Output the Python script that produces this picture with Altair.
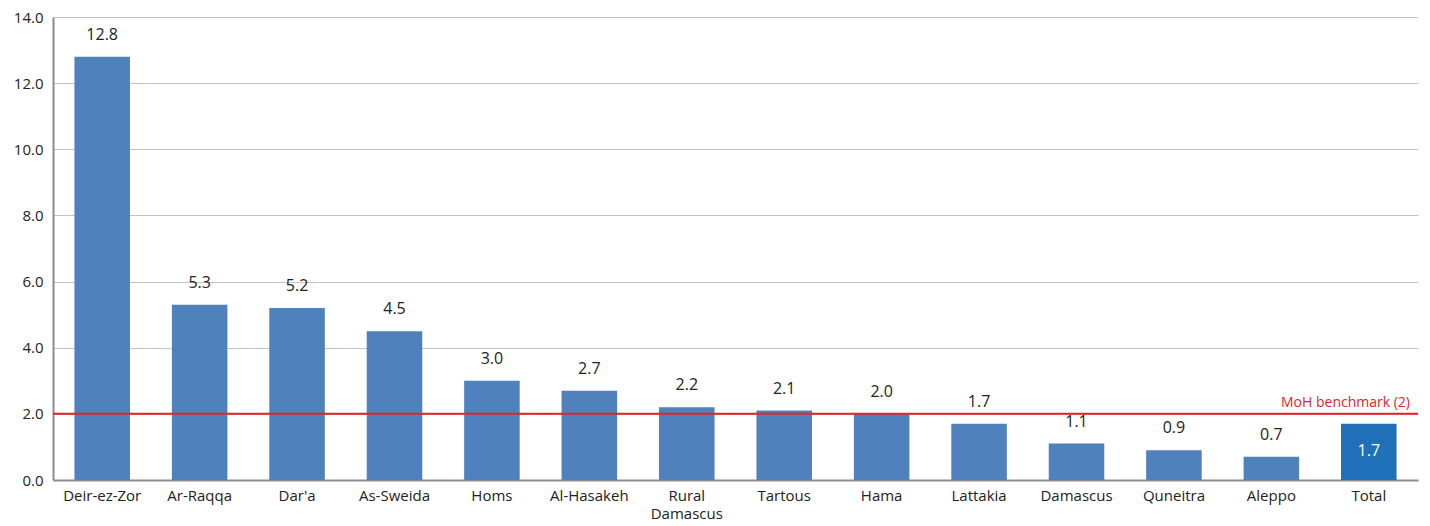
import altair as alt
import pandas as pd

# Governorate values (ratio) and the national total
governorates = ["Deir-ez-Zor", "Ar-Raqqa", "Dar'a", "As-Sweida", "Homs", "Al-Hasakeh",
                "Rural Damascus", "Tartous", "Hama", "Lattakia", "Damascus", "Quneitra",
                "Aleppo", "Total"]
values = [12.8, 5.3, 5.2, 4.5, 3.0, 2.7, 2.2, 2.1, 2.0, 1.7, 1.1, 0.9, 0.7, 1.7]
benchmark_value = 2.0
benchmark_label = "MoH benchmark (2)"

FONT = "Open Sans"
BAR = "#4f81bd"
BAR_TOTAL = "#1f70b8"
RED = "#e8202a"

df = pd.DataFrame({"area": governorates, "value": values})
df["is_total"] = df["area"] == "Total"
bench = pd.DataFrame({"y": [benchmark_value], "label": [benchmark_label]})

x_enc = alt.X(
    "area:N", sort=governorates, title=None,
    scale=alt.Scale(paddingInner=0.43, paddingOuter=0.22),
    axis=alt.Axis(
        labelAngle=0, labelFont=FONT, labelFontSize=15, labelColor="#222222",
        labelPadding=8, ticks=False, grid=False, domainColor="#8c8c8c", domainWidth=2,
        labelExpr="datum.value == 'Rural Damascus' ? ['Rural', 'Damascus'] : datum.value",
        labelLineHeight=18,
    ),
)
y_scale = alt.Scale(domain=[0, 14], nice=False)
y_axis = alt.Axis(
    values=[0, 2, 4, 6, 8, 10, 12, 14], format=".1f", labelFont=FONT, labelFontSize=15,
    labelColor="#222222", ticks=False, labelPadding=10, domainColor="#8c8c8c",
    domainWidth=2, gridColor="#c4c4c4", gridWidth=1,
)

base = alt.Chart(df)

bars = base.mark_bar().encode(
    x=x_enc,
    y=alt.Y("value:Q", scale=y_scale, axis=y_axis, title=None),
    color=alt.condition("datum.is_total", alt.value(BAR_TOTAL), alt.value(BAR)),
)

labels = base.transform_filter("!datum.is_total").mark_text(
    baseline="bottom", dy=-14, font=FONT, fontSize=16, color="#222222"
).encode(
    x=alt.X("area:N", sort=governorates),
    y=alt.Y("value:Q", scale=y_scale),
    text=alt.Text("value:Q", format=".1f"),
)

total_label = base.transform_filter("datum.is_total").mark_text(
    baseline="middle", dy=27, font=FONT, fontSize=16, color="white"
).encode(
    x=alt.X("area:N", sort=governorates),
    y=alt.Y("value:Q", scale=y_scale),
    text=alt.Text("value:Q", format=".1f"),
)

rule = alt.Chart(bench).mark_rule(color=RED, strokeWidth=2).encode(
    y=alt.Y("y:Q", scale=y_scale)
)

bench_text = alt.Chart(bench).mark_text(
    align="right", baseline="bottom", dy=-4, font=FONT, fontSize=14, color=RED
).encode(
    x=alt.value(1357),
    y=alt.Y("y:Q", scale=y_scale),
    text="label:N",
)

chart = alt.layer(bars, rule, labels, total_label, bench_text).properties(
    width=1365, height=463,
    autosize=alt.AutoSizeParams(type="none"),
    padding={"left": 53, "top": 17, "right": 12, "bottom": 46},
).configure(background="white").configure_view(stroke="transparent", strokeWidth=0)

chart.save("out.html", embed_options={"renderer": "svg", "actions": False})
